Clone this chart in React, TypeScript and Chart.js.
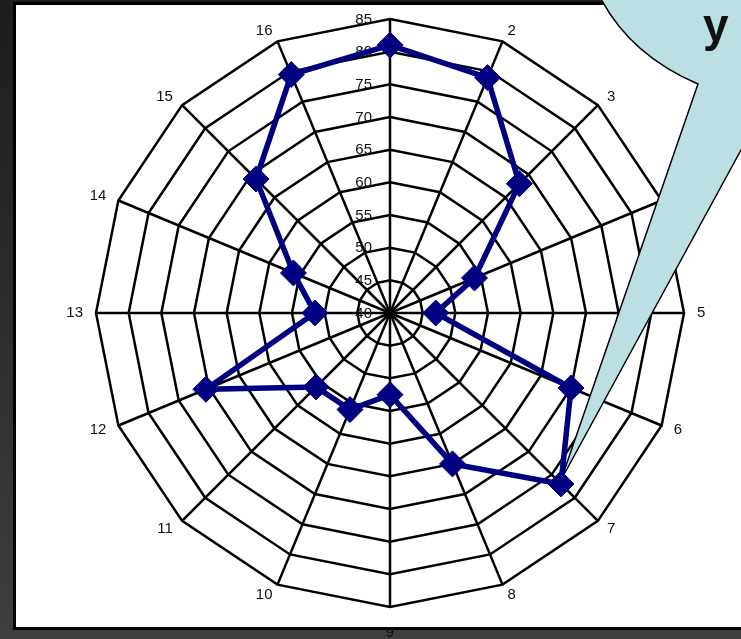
import React, { useEffect, useRef } from "react";
import { Chart, registerables } from "chart.js";

Chart.register(...registerables);

// ---- data ----
const categories = ["1", "2", "3", "4", "5", "6", "7", "8", "9", "10", "11", "12", "13", "14", "15", "16"];
const seriesValues = [81, 79, 68, 54, 47, 70, 77, 65, 52.5, 56, 56, 70.5, 51.5, 56, 69, 79.5];
const axisMin = 40;
const axisMax = 85;
const axisStep = 5;
const calloutText = "y";

const FONT = '"Liberation Sans", Arial, sans-serif';

const overlayPlugin = {
  id: "overlay",
  beforeDatasetsDraw(chart: any) {
    const s = chart.scales.r;
    const ctx = chart.ctx as CanvasRenderingContext2D;
    ctx.save();
    // radial tick labels, to the left of the vertical axis
    ctx.font = `15px ${FONT}`;
    ctx.fillStyle = "#111";
    ctx.textAlign = "right";
    ctx.textBaseline = "middle";
    s.ticks.forEach((t: any) => {
      const d = s.getDistanceFromCenterForValue(t.value);
      ctx.fillText(String(t.value), s.xCenter - 18, s.yCenter - d + 0.5);
    });
    // point labels
    ctx.textAlign = "center";
    categories.forEach((lab, i) => {
      const ang = s.getIndexAngle(i);
      const w = ctx.measureText(lab).width;
      const sn = Math.sin(ang);
      const cs = Math.cos(ang);
      const v = s.getPointPosition(i, s.drawingArea);
      let dx = 0;
      let dy = 0;
      if (Math.abs(sn) < 0.01) {
        dy = -cs * 26;
      } else {
        dx = sn * 13 + Math.sign(sn) * (w / 2);
        dy = -cs * 11;
      }
      ctx.fillText(lab, v.x + dx, v.y + dy);
    });
    // callout bubble
    const path = () => {
      ctx.beginPath();
      ctx.moveTo(600, -3);
      ctx.quadraticCurveTo(630, 55, 698, 84);
      ctx.lineTo(561, 480);
      ctx.lineTo(741, 150);
      ctx.lineTo(790, 60);
    };
    path();
    ctx.lineTo(790, -3);
    ctx.closePath();
    ctx.fillStyle = "#bbdfe3";
    ctx.fill();
    path();
    ctx.strokeStyle = "#000";
    ctx.lineWidth = 1.5;
    ctx.stroke();
    ctx.font = `bold 46px ${FONT}`;
    ctx.fillStyle = "#111";
    ctx.textAlign = "left";
    ctx.textBaseline = "alphabetic";
    ctx.fillText(calloutText, 703, 41);
    ctx.restore();
  },
};

export default function App() {
  const ref = useRef<HTMLCanvasElement>(null);
  useEffect(() => {
    if (!ref.current) return;
    const chart = new Chart(ref.current, {
      type: "radar",
      data: {
        labels: categories,
        datasets: [
          {
            data: seriesValues,
            borderColor: "#000080",
            backgroundColor: "#000080",
            borderWidth: 5.5,
            fill: false,
            tension: 0,
            pointStyle: "rectRot",
            pointRadius: 13,
            pointBackgroundColor: "#000080",
            pointBorderColor: "#000080",
            pointBorderWidth: 1,
          },
        ],
      },
      options: {
        responsive: false,
        maintainAspectRatio: false,
        animation: false,
        devicePixelRatio: 1,
        layout: { padding: { left: 95, right: 56, top: 19, bottom: 31 } },
        plugins: { legend: { display: false }, tooltip: { enabled: false } },
        scales: {
          r: {
            min: axisMin,
            max: axisMax,
            ticks: { stepSize: axisStep, display: false },
            pointLabels: { display: false },
            grid: { color: "#000", lineWidth: 2.5, circular: false },
            angleLines: { color: "#000", lineWidth: 2.5 },
          },
        },
      },
      plugins: [overlayPlugin],
    } as any);
    return () => chart.destroy();
  }, []);

  return (
    <div
      style={{
        position: "fixed",
        left: 0,
        top: 0,
        width: 741,
        height: 639,
        overflow: "hidden",
        background: "linear-gradient(to bottom, #1d1d1d, #3e3e3e)",
      }}
    >
      <div
        style={{
          position: "absolute",
          left: 13,
          top: 2,
          width: 800,
          height: 628,
          boxSizing: "border-box",
          border: "3px solid #000",
          background: "#fff",
        }}
      />
      <canvas
        ref={ref}
        width={741}
        height={639}
        style={{ position: "absolute", left: 0, top: 0, width: 741, height: 639, display: "block" }}
      />
    </div>
  );
}
